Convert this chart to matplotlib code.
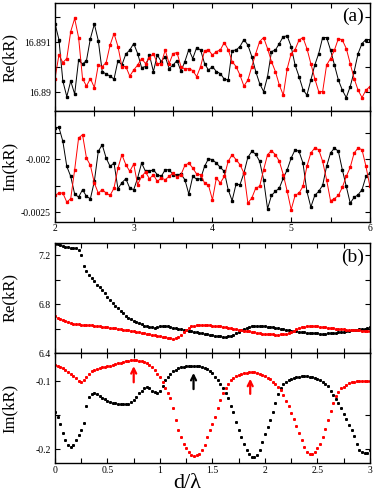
import numpy as np
import matplotlib
matplotlib.use('Agg')
import matplotlib.pyplot as plt
from matplotlib.ticker import FixedLocator, FixedFormatter, MultipleLocator

plt.rcParams['font.family'] = ['Liberation Serif', 'DejaVu Serif']

# ---- panel (a): d/lambda from 2 to 6, step 0.05 ----
d_a = np.round(np.arange(81) * 0.05 + 2.0, 3)

re_a_black = [16.89137, 16.89105, 16.89022, 16.88991, 16.89022, 16.88996, 16.89064, 16.89056, 16.89063, 16.89107,
              16.89136, 16.89103, 16.89041, 16.89036, 16.89032, 16.89026, 16.89063, 16.89054, 16.89076, 16.89084,
              16.89097, 16.89077, 16.89049, 16.89051, 16.89074, 16.89041, 16.89074, 16.89061, 16.89071, 16.89047,
              16.89054, 16.89063, 16.89042, 16.89061, 16.89085, 16.89067, 16.89089, 16.89084, 16.89057, 16.89044,
              16.89051, 16.89041, 16.89037, 16.89026, 16.89024, 16.89083, 16.89084, 16.89091, 16.89105, 16.89094,
              16.89071, 16.89041, 16.89017, 16.89001, 16.89031, 16.89081, 16.89084, 16.89097, 16.89111, 16.89112,
              16.89091, 16.89054, 16.89031, 16.89005, 16.88994, 16.89024, 16.89054, 16.89077, 16.89109, 16.89109,
              16.89084, 16.89054, 16.89024, 16.89004, 16.88989, 16.89011, 16.89041, 16.89077, 16.89097, 16.89105,
              16.89105]
re_a_red = [16.89027, 16.89074, 16.89059, 16.89067, 16.89121, 16.89147, 16.89109, 16.89027, 16.89012, 16.89027,
            16.89009, 16.89054, 16.89051, 16.89059, 16.89094, 16.89117, 16.89091, 16.89051, 16.89051, 16.89032,
            16.89044, 16.89054, 16.89067, 16.89057, 16.89069, 16.89077, 16.89057, 16.89057, 16.89084, 16.89057,
            16.89077, 16.89079, 16.89051, 16.89046, 16.89047, 16.89043, 16.89031, 16.89051, 16.89083, 16.89084,
            16.89074, 16.89081, 16.89084, 16.89099, 16.89085, 16.89061, 16.89051, 16.89034, 16.89012, 16.89024,
            16.89051, 16.89077, 16.89101, 16.89109, 16.89087, 16.89061, 16.89041, 16.89014, 16.88994, 16.89047,
            16.89077, 16.89085, 16.89104, 16.89109, 16.89087, 16.89057, 16.89027, 16.89001, 16.89001, 16.89054,
            16.89067, 16.89084, 16.89107, 16.89104, 16.89087, 16.89057, 16.89027, 16.89004, 16.88989, 16.89004,
            16.89011]
im_a_black = [-0.001708, -0.001701, -0.001833, -0.002069, -0.002164, -0.002330, -0.002359, -0.002289, -0.002352, -0.002374,
              -0.002211, -0.001928, -0.001865, -0.001991, -0.002069, -0.002038, -0.002280, -0.002223, -0.002186, -0.002274,
              -0.002289, -0.002179, -0.002038, -0.002116, -0.002116, -0.002101, -0.002148, -0.002164, -0.002101, -0.002101,
              -0.002148, -0.002148, -0.002142, -0.002195, -0.002330, -0.002164, -0.002189, -0.002186, -0.002069, -0.001997,
              -0.002006, -0.002038, -0.002079, -0.002116, -0.002289, -0.002393, -0.002236, -0.002242, -0.002132, -0.001984,
              -0.001928, -0.001953, -0.002022, -0.002195, -0.002469, -0.002343, -0.002305, -0.002274, -0.002179, -0.002101,
              -0.001991, -0.001912, -0.001928, -0.002038, -0.002305, -0.002453, -0.002343, -0.002305, -0.002248, -0.002069,
              -0.001943, -0.001896, -0.001928, -0.002101, -0.002258, -0.002415, -0.002362, -0.002337, -0.002289, -0.002164,
              -0.002132]
im_a_red = [-0.002343, -0.002321, -0.002321, -0.002406, -0.002374, -0.002101, -0.001802, -0.001770, -0.001991, -0.002060,
            -0.002226, -0.002321, -0.002289, -0.002321, -0.002343, -0.002274, -0.002085, -0.001959, -0.002053, -0.002116,
            -0.002047, -0.002242, -0.002164, -0.002123, -0.002186, -0.002148, -0.002211, -0.002179, -0.002195, -0.002164,
            -0.002132, -0.002173, -0.002148, -0.002060, -0.002038, -0.002085, -0.002142, -0.002148, -0.002226, -0.002248,
            -0.002384, -0.002179, -0.002226, -0.002164, -0.002022, -0.001959, -0.002006, -0.002053, -0.002132, -0.002415,
            -0.002368, -0.002274, -0.002258, -0.002101, -0.001959, -0.001921, -0.001959, -0.002022, -0.002148, -0.002305,
            -0.002478, -0.002343, -0.002321, -0.002258, -0.002069, -0.001943, -0.001896, -0.001912, -0.002022, -0.002195,
            -0.002393, -0.002374, -0.002343, -0.002267, -0.002164, -0.002079, -0.001943, -0.001896, -0.001912, -0.002069,
            -0.002258]

# ---- panel (b): d/lambda from 0 to 3, step 0.025 ----
d_b = np.round(np.arange(121) * 0.025, 3)

re_b_black = [7.295, 7.29, 7.28, 7.275, 7.27, 7.265, 7.26, 7.258, 7.255, 7.24,
              7.20, 7.11, 7.07, 7.04, 7.01, 6.985, 6.96, 6.94, 6.915, 6.89,
              6.86, 6.83, 6.81, 6.785, 6.765, 6.745, 6.725, 6.705, 6.69, 6.675,
              6.665, 6.655, 6.645, 6.635, 6.625, 6.62, 6.615, 6.61, 6.608, 6.615,
              6.62, 6.622, 6.62, 6.617, 6.613, 6.608, 6.603, 6.598, 6.594, 6.59,
              6.585, 6.58, 6.576, 6.572, 6.568, 6.564, 6.56, 6.556, 6.552, 6.548,
              6.545, 6.542, 6.539, 6.536, 6.534, 6.533, 6.536, 6.542, 6.55, 6.56,
              6.572, 6.585, 6.597, 6.607, 6.615, 6.62, 6.623, 6.624, 6.623, 6.621,
              6.618, 6.615, 6.612, 6.609, 6.606, 6.602, 6.598, 6.594, 6.59, 6.586,
              6.582, 6.579, 6.576, 6.573, 6.57, 6.568, 6.566, 6.564, 6.562, 6.561,
              6.56, 6.559, 6.559, 6.559, 6.56, 6.561, 6.563, 6.565, 6.568, 6.571,
              6.575, 6.578, 6.582, 6.585, 6.588, 6.591, 6.594, 6.597, 6.60, 6.605,
              6.61]
re_b_red = [6.70, 6.69, 6.68, 6.668, 6.658, 6.65, 6.645, 6.64, 6.637, 6.635,
            6.633, 6.632, 6.63, 6.628, 6.626, 6.624, 6.622, 6.619, 6.616, 6.613,
            6.61, 6.607, 6.604, 6.601, 6.598, 6.595, 6.592, 6.589, 6.585, 6.581,
            6.577, 6.573, 6.569, 6.565, 6.561, 6.557, 6.553, 6.549, 6.545, 6.541,
            6.537, 6.533, 6.529, 6.525, 6.521, 6.518, 6.52, 6.53, 6.55, 6.572,
            6.592, 6.607, 6.618, 6.625, 6.629, 6.631, 6.632, 6.631, 6.629, 6.627,
            6.625, 6.622, 6.62, 6.617, 6.614, 6.611, 6.608, 6.604, 6.60, 6.596,
            6.592, 6.588, 6.584, 6.58, 6.576, 6.572, 6.568, 6.565, 6.562, 6.559,
            6.557, 6.555, 6.553, 6.552, 6.551, 6.551, 6.552, 6.554, 6.558, 6.565,
            6.574, 6.584, 6.594, 6.603, 6.61, 6.615, 6.618, 6.62, 6.621, 6.62,
            6.618, 6.615, 6.612, 6.609, 6.606, 6.604, 6.602, 6.60, 6.598, 6.596,
            6.594, 6.592, 6.59, 6.588, 6.587, 6.586, 6.585, 6.584, 6.583, 6.582,
            6.58]
im_b_black = [-0.145, -0.153, -0.163, -0.177, -0.187, -0.194, -0.1966, -0.194, -0.187, -0.179,
              -0.172, -0.162, -0.137, -0.124, -0.119, -0.118, -0.119, -0.122, -0.125, -0.127,
              -0.129, -0.131, -0.132, -0.133, -0.1335, -0.134, -0.1343, -0.1344, -0.1335, -0.131,
              -0.128, -0.123, -0.118, -0.114, -0.111, -0.109, -0.111, -0.114, -0.116, -0.117,
              -0.114, -0.107, -0.099, -0.094, -0.0897, -0.086, -0.0835, -0.0815, -0.080, -0.079,
              -0.078, -0.0775, -0.0772, -0.0772, -0.0777, -0.0785, -0.080, -0.0815, -0.083, -0.0855,
              -0.088, -0.094, -0.098, -0.104, -0.110, -0.117, -0.1255, -0.137, -0.145, -0.160,
              -0.172, -0.183, -0.193, -0.2015, -0.208, -0.212, -0.2115, -0.209, -0.202, -0.189,
              -0.178, -0.168, -0.157, -0.145, -0.132, -0.119, -0.111, -0.105, -0.1015, -0.099,
              -0.097, -0.0955, -0.0945, -0.0935, -0.093, -0.0926, -0.0928, -0.0935, -0.0943, -0.0955,
              -0.0975, -0.099, -0.1015, -0.104, -0.108, -0.114, -0.1205, -0.1265, -0.133, -0.140,
              -0.148, -0.156, -0.164, -0.172, -0.181, -0.1925, -0.2015, -0.205, -0.2064, -0.2055,
              -0.2015]
im_b_red = [-0.0765, -0.0775, -0.079, -0.081, -0.0835, -0.0865, -0.089, -0.092, -0.096, -0.0995,
            -0.1015, -0.0985, -0.094, -0.089, -0.086, -0.0835, -0.082, -0.0813, -0.080, -0.0788,
            -0.0778, -0.0772, -0.076, -0.0745, -0.0735, -0.0728, -0.0718, -0.071, -0.0703, -0.0698,
            -0.0696, -0.0698, -0.0703, -0.071, -0.0725, -0.074, -0.0765, -0.080, -0.084, -0.089,
            -0.0937, -0.101, -0.110, -0.118, -0.1255, -0.140, -0.158, -0.172, -0.183, -0.192,
            -0.199, -0.2045, -0.2088, -0.2103, -0.2095, -0.2075, -0.2015, -0.194, -0.183, -0.172,
            -0.163, -0.153, -0.140, -0.1285, -0.118, -0.110, -0.104, -0.099, -0.0955, -0.093,
            -0.091, -0.0893, -0.0882, -0.0875, -0.087, -0.0868, -0.087, -0.0878, -0.0893, -0.091,
            -0.093, -0.0955, -0.0975, -0.101, -0.105, -0.109, -0.1135, -0.120, -0.129, -0.137,
            -0.1475, -0.156, -0.166, -0.1765, -0.1868, -0.197, -0.2045, -0.2074, -0.2072, -0.204,
            -0.199, -0.192, -0.182, -0.170, -0.157, -0.144, -0.132, -0.122, -0.1157, -0.111,
            -0.1083, -0.106, -0.1035, -0.102, -0.1008, -0.1, -0.0997, -0.0996, -0.0996, -0.0998,
            -0.100]

# arrows in the Im(kR) panel of (b): (x, tail, head, colour)
arrows = [(0.75, -0.106, -0.074, 'red'), (1.32, -0.116, -0.084, 'black'), (1.86, -0.123, -0.0926, 'red')]

for arr in (re_a_black, re_a_red, im_a_black, im_a_red):
    assert len(arr) == len(d_a)
for arr in (re_b_black, re_b_red, im_b_black, im_b_red):
    assert len(arr) == len(d_b)

fig = plt.figure(figsize=(3.74, 4.96), dpi=100)
a1 = fig.add_axes([0.147, 0.776, 0.842, 0.218])
a2 = fig.add_axes([0.147, 0.5524, 0.842, 0.2238])
b1 = fig.add_axes([0.147, 0.2883, 0.842, 0.2218])
b2 = fig.add_axes([0.147, 0.0665, 0.842, 0.2218])


def style(ax):
    for s in ax.spines.values():
        s.set_linewidth(1.0)
    ax.tick_params(which='both', direction='in', top=True, right=True,
                   length=3.5, width=0.8, labelsize=7, pad=3)


def ticks_y(ax, major, labels, minor):
    ax.yaxis.set_major_locator(FixedLocator(major))
    ax.yaxis.set_major_formatter(FixedFormatter(labels))
    ax.yaxis.set_minor_locator(FixedLocator(minor))


# panel (a)
mk = dict(marker='s', markersize=1.5, linewidth=0.7)
a1.plot(d_a, re_a_black, color='black', **mk)
a1.plot(d_a, re_a_red, color='red', **mk)
a2.plot(d_a, im_a_black, color='black', **mk)
a2.plot(d_a, im_a_red, color='red', **mk)
for ax in (a1, a2):
    style(ax)
    ax.set_xlim(2, 6)
    ax.xaxis.set_major_locator(MultipleLocator(1))
    ax.xaxis.set_minor_locator(MultipleLocator(0.5))
a1.set_ylim(16.88962, 16.89178)
ticks_y(a1, [16.89, 16.891], ['16.89', '16.891'], [16.8905, 16.8915])
a1.tick_params(labelbottom=False)
a2.set_ylim(-0.002594, -0.001547)
ticks_y(a2, [-0.0025, -0.002], ['-0.0025', '-0.002'], [-0.00225, -0.00175])
a2.tick_params(axis='x', pad=1.5)

# panel (b)
dot = dict(marker='s', markersize=1.15, linestyle='none')
b1.plot(d_b, re_b_black, color='black', **dot)
b1.plot(d_b, re_b_red, color='red', **dot)
b2.plot(d_b, im_b_black, color='black', **dot)
b2.plot(d_b, im_b_red, color='red', **dot)
for ax in (b1, b2):
    style(ax)
    ax.set_xlim(0, 3)
    ax.xaxis.set_major_locator(MultipleLocator(0.5))
    ax.xaxis.set_minor_locator(MultipleLocator(0.25))
b1.set_ylim(6.4, 7.3)
ticks_y(b1, [6.4, 6.8, 7.2], ['6.4', '6.8', '7.2'], [6.6, 7.0])
b1.tick_params(labelbottom=False)
b2.set_ylim(-0.2206, -0.0588)
ticks_y(b2, [-0.2, -0.1], ['-0.2', '-0.1'], [-0.15])
b2.xaxis.set_major_formatter(FixedFormatter(['0', '0.5', '1', '1.5', '2', '2.5', '3']))
b2.xaxis.set_major_locator(FixedLocator([0, 0.5, 1, 1.5, 2, 2.5, 3]))
b2.tick_params(axis='x', pad=2)

for x, y0, y1, c in arrows:
    b2.annotate('', xy=(x, y1), xytext=(x, y0),
                arrowprops=dict(arrowstyle='->', color=c, lw=1.6, mutation_scale=9))

# labels (y-label anchor is its right-hand edge)
for ax, lab in ((a1, 'Re(kR)'), (a2, 'Im(kR)'), (b1, 'Re(kR)'), (b2, 'Im(kR)')):
    ax.set_ylabel(lab, fontsize=12)
    ax.yaxis.set_label_coords(-0.118, 0.5)
a1.text(0.946, 0.88, '(a)', transform=a1.transAxes, fontsize=14, ha='center', va='center')
b1.text(0.946, 0.873, '(b)', transform=b1.transAxes, fontsize=14, ha='center', va='center')
b2.text(0.42, -0.19, 'd/λ', transform=b2.transAxes, fontsize=16, ha='center', va='center')

fig.savefig('out.png', dpi=100)
